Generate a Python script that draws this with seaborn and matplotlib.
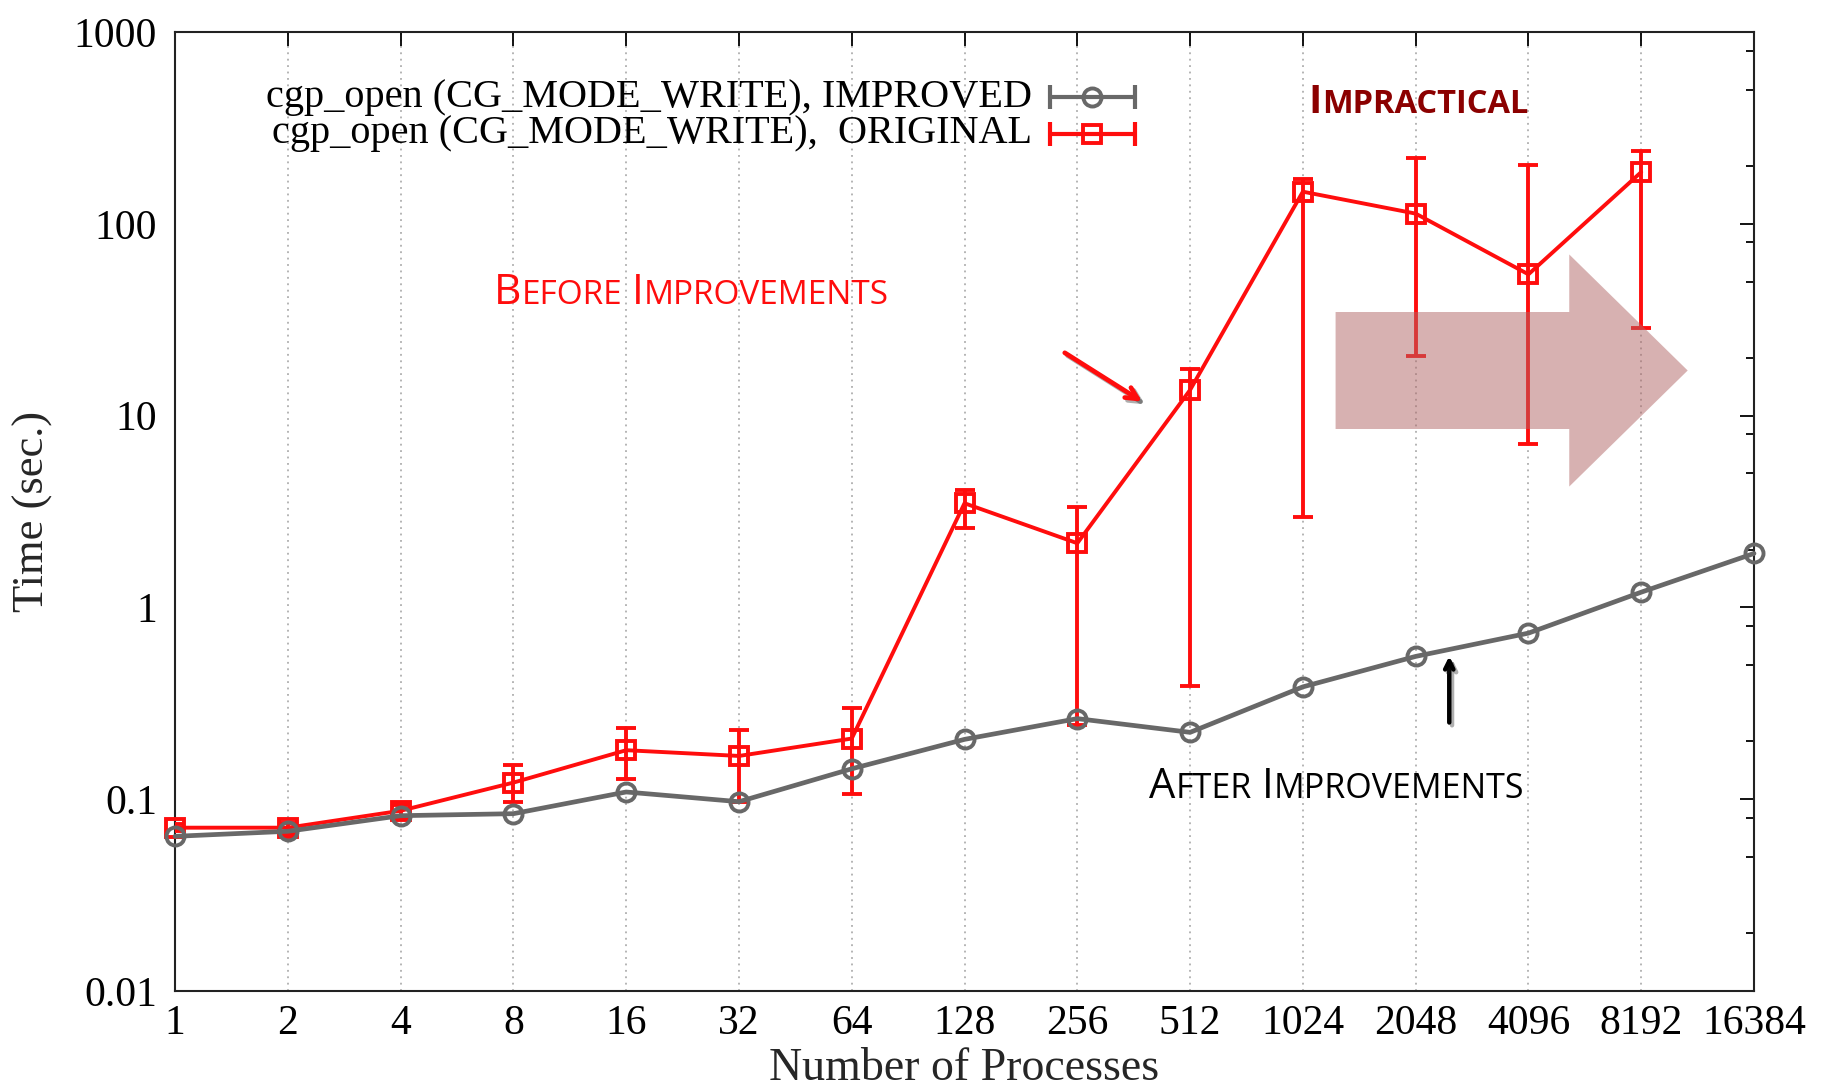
import numpy as np
import matplotlib
matplotlib.use("Agg")
import matplotlib.pyplot as plt
import matplotlib.ticker as mticker
import matplotlib.patheffects as pe
from matplotlib.patches import Polygon
from matplotlib.offsetbox import TextArea, HPacker, AnnotationBbox
import seaborn as sns

# data
procs = [1, 2, 4, 8, 16, 32, 64, 128, 256, 512, 1024, 2048, 4096, 8192, 16384]
improved = [0.064, 0.068, 0.082, 0.084, 0.109, 0.097, 0.144, 0.205, 0.263,
            0.223, 0.385, 0.555, 0.734, 1.2, 1.91]

orig_procs = procs[:-1]
original = [0.071, 0.071, 0.087, 0.122, 0.18, 0.168, 0.207, 3.49, 2.16,
            13.6, 147, 113, 54.5, 186]
orig_lo = [0.068, 0.066, 0.081, 0.097, 0.127, 0.097, 0.106, 2.6, 0.245,
           0.39, 2.95, 20.4, 7.15, 28.5]
orig_hi = [0.074, 0.075, 0.093, 0.150, 0.235, 0.229, 0.299, 4.07, 3.34,
           17.5, 172, 221, 203, 240]

GRAY = "#686868"
RED = "#ff0d0d"
SERIF = ["Liberation Serif", "DejaVu Serif"]
SANS = ["Open Sans", "DejaVu Sans"]

sns.set_theme(style="white")
plt.rcParams["font.family"] = SERIF

fig = plt.figure(figsize=(18.33, 10.88), dpi=100)
ax = fig.add_axes([0.0955, 0.0892, 0.8614, 0.8814])

# error bars for the original version
orig = np.array(original)
yerr = [orig - np.array(orig_lo), np.array(orig_hi) - orig]
ax.errorbar(orig_procs, original, yerr=yerr, fmt="none", ecolor=RED,
            elinewidth=2.8, capsize=7, capthick=2.8, zorder=3)

sns.lineplot(x=orig_procs, y=original, ax=ax, color=RED, lw=2.8,
             marker="s", markersize=13, markerfacecolor="none",
             markeredgecolor=RED, markeredgewidth=2.8, zorder=4, clip_on=False)
sns.lineplot(x=procs, y=improved, ax=ax, color=GRAY, lw=3.4,
             marker="o", markersize=13, markerfacecolor="none",
             markeredgecolor=GRAY, markeredgewidth=2.8, zorder=5, clip_on=False)

# axes
ax.set_xscale("log", base=2)
ax.set_yscale("log")
ax.set_xlim(1, 16384)
ax.set_ylim(0.01, 1000)
ax.xaxis.set_major_locator(mticker.FixedLocator(procs))
ax.xaxis.set_major_formatter(mticker.FixedFormatter([str(p) for p in procs]))
ax.xaxis.set_minor_locator(mticker.NullLocator())
ax.yaxis.set_major_locator(mticker.FixedLocator([0.01, 0.1, 1, 10, 100, 1000]))
ax.yaxis.set_major_formatter(mticker.FixedFormatter(["0.01", "0.1", "1", "10", "100", "1000"]))
ax.yaxis.set_minor_locator(mticker.LogLocator(base=10, subs=[2, 5, 8], numticks=20))
ax.yaxis.set_minor_formatter(mticker.NullFormatter())

ax.tick_params(axis="both", which="both", direction="in", top=True, right=True,
               colors="black", width=1.3)
ax.tick_params(axis="both", which="major", length=10)
ax.tick_params(axis="y", which="minor", length=6)
ax.tick_params(axis="x", which="major", labelsize=30, pad=10)
ax.tick_params(axis="y", which="major", labelsize=30, pad=13)
for s in ax.spines.values():
    s.set_color("#222222")
    s.set_linewidth(1.5)

ax.grid(False)
ax.xaxis.grid(True, color="#a0a0a0", linestyle=(0, (1.2, 3)), linewidth=1.1)
ax.set_axisbelow(True)

ax.set_xlabel("Number of Processes", fontsize=33, labelpad=3)
ax.set_ylabel("Time (sec.)", fontsize=32, labelpad=15)

# legend in gnuplot style
leg_rows = [("cgp_open (CG_MODE_WRITE), IMPROVED", GRAY, "o", 0.932),
            ("cgp_open (CG_MODE_WRITE),  ORIGINAL", RED, "s", 0.894)]
for label, col, mk, yy in leg_rows:
    ax.text(0.543, yy, label, transform=ax.transAxes, ha="right", va="center",
            fontsize=29, color="black")
    ax.plot([0.554, 0.608], [yy, yy], transform=ax.transAxes, color=col,
            lw=3.0, clip_on=False)
    ax.plot([0.554, 0.608], [yy, yy], transform=ax.transAxes, color=col,
            lw=0, marker="|", markersize=17, markeredgewidth=3.0, clip_on=False)
    ax.plot([0.581], [yy], transform=ax.transAxes, color=col, lw=0, marker=mk,
            markersize=13, markerfacecolor="none", markeredgewidth=2.8, clip_on=False)


def smallcaps(words, xy, big, small, color, weight="normal"):
    packs = []
    for w in words:
        parts = [TextArea(w[0], textprops=dict(size=big, color=color, family=SANS, weight=weight)),
                 TextArea(w[1:], textprops=dict(size=small, color=color, family=SANS, weight=weight))]
        packs.append(HPacker(children=parts, align="baseline", pad=0, sep=0))
    box = HPacker(children=packs, align="baseline", pad=0, sep=small * 0.3)
    ab = AnnotationBbox(box, xy, xycoords="axes fraction", box_alignment=(0, 0.5),
                        frameon=False, pad=0, zorder=8)
    ax.add_artist(ab)


smallcaps(["BEFORE", "IMPROVEMENTS"], (0.202, 0.728), 30.5, 24, RED)
smallcaps(["IMPRACTICAL"], (0.718, 0.926), 29, 23.5, "#8b0000", weight="bold")
smallcaps(["AFTER", "IMPROVEMENTS"], (0.617, 0.213), 30, 24.5, "black")

# big block arrow towards larger process counts
arrow_pts = [(0.735, 0.586), (0.883, 0.586), (0.883, 0.526), (0.958, 0.647),
             (0.883, 0.768), (0.883, 0.708), (0.735, 0.708)]
ax.add_patch(Polygon(arrow_pts, closed=True, transform=ax.transAxes,
                     facecolor="#b06565", edgecolor="none", alpha=0.5, zorder=6))

shadow = [pe.SimpleLineShadow(offset=(2, -2), alpha=0.35), pe.Normal()]
ax.annotate("", xy=(0.614, 0.613), xytext=(0.562, 0.667),
            xycoords="axes fraction", textcoords="axes fraction",
            arrowprops=dict(arrowstyle="->,head_length=0.7,head_width=0.35",
                            color=RED, lw=3.4, path_effects=shadow), zorder=7)
ax.annotate("", xy=(0.807, 0.352), xytext=(0.807, 0.277),
            xycoords="axes fraction", textcoords="axes fraction",
            arrowprops=dict(arrowstyle="->,head_length=0.5,head_width=0.25",
                            color="black", lw=3.2, path_effects=shadow), zorder=7)

fig.savefig("out.png", dpi=100)
